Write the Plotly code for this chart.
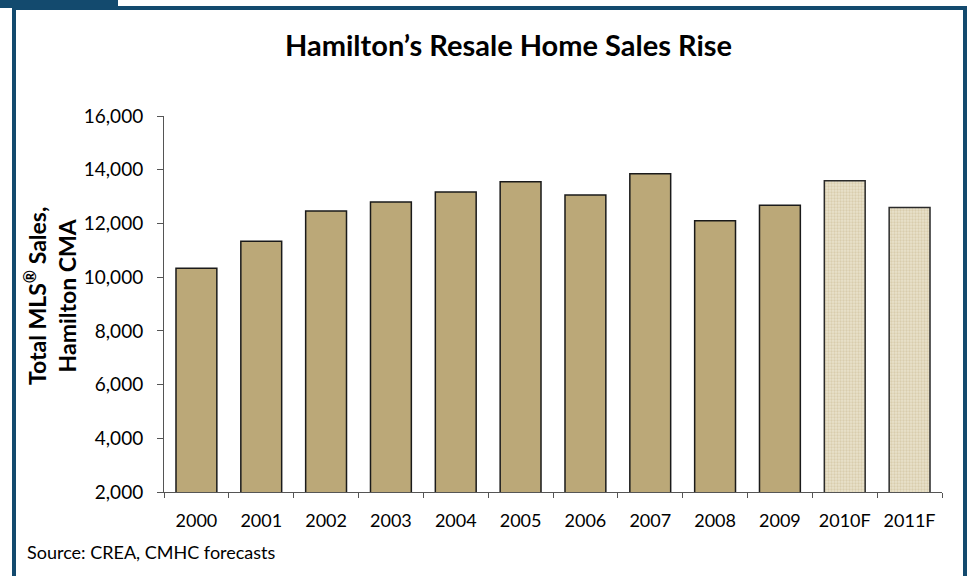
import plotly.graph_objects as go

years = ["2000", "2001", "2002", "2003", "2004", "2005", "2006", "2007", "2008", "2009", "2010F", "2011F"]
sales = [10330, 11335, 12460, 12800, 13170, 13555, 13060, 13850, 12100, 12675, 13590, 12590]
forecast = [False] * 10 + [True] * 2

W, H = 967, 576
L, R, T, B = 164, 942, 116, 492

def px(x):
    return (x - L) / (R - L)

def py(y):
    return (B - y) / (B - T)

FONT = "Lato, 'Open Sans', sans-serif"
BLUE = "#134a6e"
TAN = "#BBA878"

hist_x = [y for y, f in zip(years, forecast) if not f]
hist_y = [v for v, f in zip(sales, forecast) if not f]
fc_x = [y for y, f in zip(years, forecast) if f]
fc_y = [v for v, f in zip(sales, forecast) if f]

fig = go.Figure()
fig.add_trace(go.Bar(
    x=hist_x, y=hist_y,
    marker=dict(color=TAN, line=dict(color="#1a1a1a", width=1.5)),
    width=0.63, showlegend=False,
))
fig.add_trace(go.Bar(
    x=fc_x, y=fc_y,
    marker=dict(color="#E4DCC4", line=dict(color="#2a2a2a", width=1.5),
                pattern=dict(shape=".", fgcolor="#C9B98F", bgcolor="#E8E1CB", size=3, solidity=0.45)),
    width=0.63, showlegend=False,
))

fig.update_layout(
    width=W, height=H,
    margin=dict(l=L, r=W - R, t=T, b=H - B),
    paper_bgcolor="white", plot_bgcolor="white",
    font=dict(family=FONT, color="black"),
    barmode="overlay",
    xaxis=dict(
        categoryorder="array", categoryarray=years,
        showline=True, linecolor="#555", linewidth=1,
        ticks="outside", ticklen=5, tickcolor="#555", tickson="boundaries",
        tickfont=dict(size=18, family=FONT), showgrid=False,
        ticklabelstandoff=12,
    ),
    yaxis=dict(
        range=[2000, 16000], dtick=2000, tickformat=",",
        showline=True, linecolor="#555", linewidth=1,
        ticks="outside", ticklen=6, tickcolor="#555",
        tickfont=dict(size=19, family=FONT), showgrid=False, zeroline=False,
        ticklabelstandoff=10,
    ),
    shapes=[
        dict(type="rect", xref="paper", yref="paper",
             x0=px(0), x1=px(118), y0=py(0), y1=py(8),
             fillcolor=BLUE, line=dict(width=0), layer="above"),
        dict(type="line", xref="paper", yref="paper",
             x0=px(14), x1=px(14), y0=py(6), y1=py(580),
             line=dict(color=BLUE, width=4)),
        dict(type="line", xref="paper", yref="paper",
             x0=px(12), x1=px(967), y0=py(8), y1=py(8),
             line=dict(color=BLUE, width=4)),
        dict(type="line", xref="paper", yref="paper",
             x0=px(965), x1=px(965), y0=py(6), y1=py(580),
             line=dict(color=BLUE, width=4)),
    ],
    annotations=[
        dict(text="<b>Hamilton’s Resale Home Sales Rise</b>", xref="paper", yref="paper",
             x=px(508), y=py(44), xanchor="center", yanchor="middle", showarrow=False,
             font=dict(size=29, family=FONT)),
        dict(text="<b>Total MLS<sup>®</sup> Sales,<br>Hamilton CMA</b>", xref="paper", yref="paper",
             x=px(50), y=py(296), xanchor="center", yanchor="middle", showarrow=False,
             textangle=-90, font=dict(size=23, family=FONT)),
        dict(text="Source: CREA, CMHC forecasts", xref="paper", yref="paper",
             x=px(25), y=py(552), xanchor="left", yanchor="middle", showarrow=False,
             font=dict(size=18, family=FONT)),
    ],
)

fig.write_html("out.html")
